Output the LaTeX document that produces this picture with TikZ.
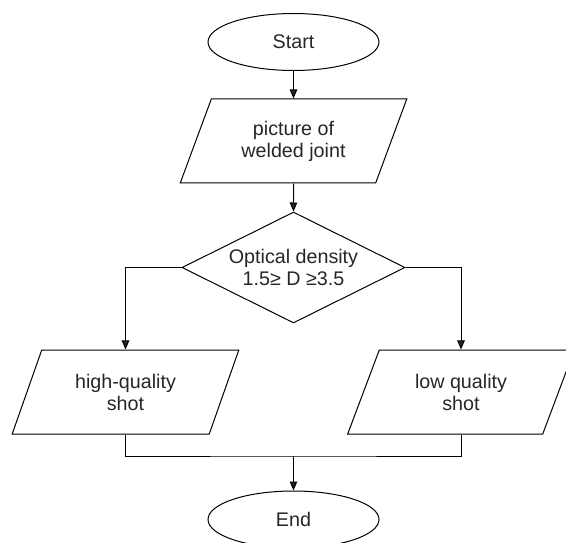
\documentclass[tikz,border=0pt]{standalone}
\usepackage{fontspec}
\setmainfont{Liberation Sans}
\usetikzlibrary{shapes.geometric,arrows.meta}

\begin{document}
\begin{tikzpicture}[x=1pt,y=-1pt]
	\tikzstyle{terminal} = [ellipse, draw=black, line width=1pt, minimum width=171pt, minimum height=57pt, inner sep=0pt]
	\tikzstyle{io_box} = [trapezium, trapezium left angle=64, trapezium right angle=116, trapezium stretches=true, draw=black, line width=1pt, minimum width=227pt, minimum height=84pt, inner sep=0pt, align=center]
	\tikzstyle{decision} = [diamond, draw=black, line width=1pt, minimum width=223pt, minimum height=111pt, aspect=2, inner sep=0pt, align=center]
	\tikzstyle{flow} = [draw=black, line width=1pt, -{Triangle[length=9pt,width=7.5pt]}]
	\tikzstyle{wire} = [draw=black, line width=1pt]

	\useasboundingbox (0,0) rectangle (566,543);
	\fontsize{19.7}{22}\selectfont
	\color{black!85}

%------------------------------------------------------------
	\node[terminal] (start) at (293.5,42) {Start};
	\node[io_box] (photo) at (293.5,141) {picture of\\welded joint};
	\node[decision] (density) at (293.5,267.5) {Optical density\\1.5≥ D ≥3.5};

%------------------------------------------------------------

	\node[io_box] (good) at (125.5,392) {high-quality\\shot};
	\node[io_box] (bad) at (461,392) {low quality\\shot};

%------------------------------------------------------------

	\coordinate (join) at (293.5,456);
	\node[terminal] (end) at (293.5,519.5) {End};

%------------------------------------------------------------

	\path[flow] (start) -- (photo);
	\path[flow] (photo) -- (density);
	\path[flow] (density.west) -| (good.north);
	\path[flow] (density.east) -| (bad.north);
	\path[wire] (good.south) |- (join) -| (bad.south);
	\path[flow] (join) -- (end);

\end{tikzpicture}
\end{document}
